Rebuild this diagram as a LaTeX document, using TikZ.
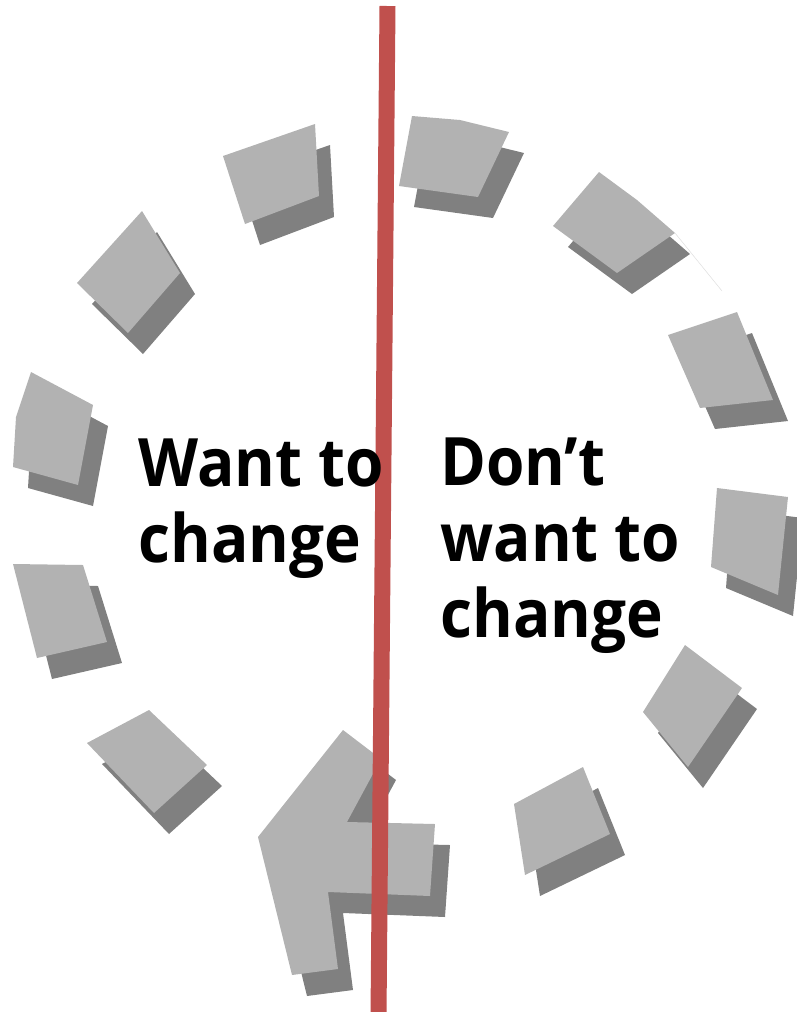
\documentclass[tikz,border=0pt]{standalone}
\usepackage{fontspec}
\setmainfont{Open Sans}[FakeStretch=0.93]
\usepackage{xcolor}
\usepackage{tikz}
\definecolor{blocklight}{RGB}{178, 178, 178}
\definecolor{blockdark}{RGB}{128, 128, 128}
\definecolor{dividerred}{RGB}{192, 80, 77}
% one piece of the dashed ring, with its drop shadow
\newcommand{\ringpiece}[1]{%
  \fill[blockshade, shift={(15,21)}] #1 -- cycle;
  \fill[blockfill] #1 -- cycle;}

\begin{document}
\begin{tikzpicture}[x=0.02cm, y=-0.02cm,
    blockfill/.style={fill=blocklight},
    blockshade/.style={fill=blockdark},
    divider/.style={draw=dividerred, line width=0.32cm},
    sidetext/.style={anchor=base west, align=left, inner sep=0pt,
      font=\bfseries\fontsize{38}{43.2}\selectfont}]
    \useasboundingbox (0,0) rectangle (796,1012);

    % Dashed ring, clockwise from the top
    \ringpiece{(412,116) -- (460,120) -- (509,132) -- (478,197) -- (399,186)}
    \ringpiece{(599,172) -- (637,200) -- (675,233) -- (617,273) -- (553,226)}
    \ringpiece{(668,335) -- (737,312) -- (773,400) -- (700,408)}
    \ringpiece{(717,488) -- (788,497) -- (778,595) -- (711,567)}
    \ringpiece{(685,645) -- (742,688) -- (688,767) -- (643,712)}
    \ringpiece{(514,804) -- (583,767) -- (610,834) -- (525,875)}

    % Arrow head
    \ringpiece{(343,730) -- (381,759) -- (347,822) -- (435,824) -- (430,896)
      -- (328,892) -- (338,969) -- (292,975) -- (258,837)}

    \ringpiece{(87,743) -- (149,710) -- (207,765) -- (154,813)}
    \ringpiece{(13,564) -- (83,565) -- (107,642) -- (37,658)}
    \ringpiece{(31,372) -- (93,405) -- (78,485) -- (13,467) -- (16,417)}
    \ringpiece{(142,211) -- (180,273) -- (128,333) -- (77,283)}
    \ringpiece{(223,156) -- (315,124) -- (319,196) -- (245,224)}

    % faint stray stroke
    \draw[gray!25, line width=0.3pt] (675,233) -- (722,291);

    % Divider
    \coordinate (divtop) at (387.5,6);
    \coordinate (divbot) at (378.5,1016);
    \draw[divider] (divtop) -- (divbot);

    % Labels (anchored at the last line)
    \node[sidetext] (wantlbl) at (138,562) {Want to\\change};
    \node[sidetext] (dontlbl) at (440,637) {Don’t\\want to\\change};
\end{tikzpicture}
\end{document}
